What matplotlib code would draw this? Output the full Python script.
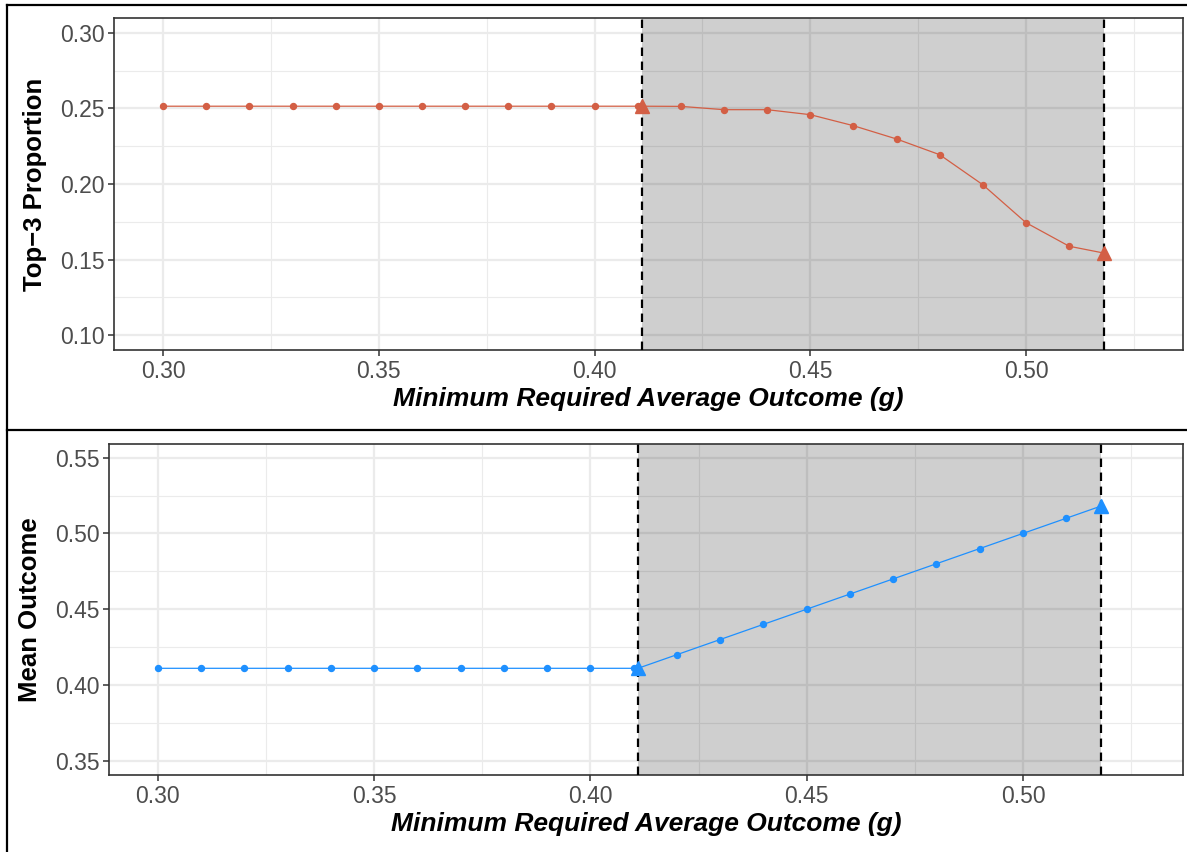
import matplotlib
matplotlib.use("Agg")
import matplotlib.pyplot as plt
from matplotlib.lines import Line2D
from matplotlib.ticker import MultipleLocator

plt.rcParams['font.family'] = ['Liberation Sans', 'DejaVu Sans']

# data
g_values = [0.30, 0.31, 0.32, 0.33, 0.34, 0.35, 0.36, 0.37, 0.38, 0.39, 0.40,
            0.41, 0.42, 0.43, 0.44, 0.45, 0.46, 0.47, 0.48, 0.49, 0.50, 0.51]
top3_prop = [0.2515, 0.2515, 0.2515, 0.2515, 0.2515, 0.2515, 0.2515, 0.2515,
             0.2515, 0.2515, 0.2515, 0.2515, 0.2514, 0.2492, 0.2492, 0.2459,
             0.2386, 0.2298, 0.2194, 0.1995, 0.1744, 0.1588]
mean_outcome = [0.411, 0.411, 0.411, 0.411, 0.411, 0.411, 0.411, 0.411, 0.411,
                0.411, 0.411, 0.411, 0.42, 0.43, 0.44, 0.45, 0.46, 0.47, 0.48,
                0.49, 0.50, 0.51]
g_lo = 0.411
g_hi = 0.518
top3_ends = [0.2515, 0.1543]
mean_ends = [0.411, 0.518]

RED = '#D35F45'
BLUE = '#1E90FF'

fig = plt.figure(figsize=(11.87, 8.52), dpi=100)


def style_axes(ax, ylims, ytick_step):
    ax.set_ylim(*ylims)
    ax.xaxis.set_major_locator(MultipleLocator(0.05))
    ax.xaxis.set_minor_locator(MultipleLocator(0.025))
    ax.yaxis.set_major_locator(MultipleLocator(ytick_step))
    ax.yaxis.set_minor_locator(MultipleLocator(ytick_step / 2))
    ax.set_axisbelow(True)
    ax.grid(which='major', color='#EBEBEB', linewidth=1.6)
    ax.grid(which='minor', color='#EBEBEB', linewidth=0.8)
    ax.tick_params(which='major', length=4, width=1.1, color='#333333',
                   labelsize=16.5, labelcolor='#4D4D4D', pad=3)
    ax.tick_params(which='minor', length=0)
    for s in ax.spines.values():
        s.set_color('#333333')
        s.set_linewidth(1.2)
    ax.xaxis.set_major_formatter(plt.FuncFormatter(lambda v, p: f"{v:.2f}"))
    ax.yaxis.set_major_formatter(plt.FuncFormatter(lambda v, p: f"{v:.2f}"))
    ax.set_xlabel('Minimum Required Average Outcome (g)', fontsize=19,
                  fontweight='bold', fontstyle='italic', labelpad=3)


def draw_panel(ax, yvals, ends, color):
    ax.axvspan(g_lo, g_hi, color='black', alpha=0.19, linewidth=0, zorder=1)
    xs = g_values[:12] + [g_lo] + g_values[12:] + [g_hi]
    ys = yvals[:12] + [ends[0]] + yvals[12:] + [ends[1]]
    ax.plot(xs, ys, color=color, linewidth=0.9, zorder=3)
    ax.plot(g_values, yvals, 'o', color=color, markersize=4.3, zorder=4)
    for xv in (g_lo, g_hi):
        ax.axvline(xv, color='black', linewidth=1.6, linestyle=(0, (3.8, 2.5)),
                   zorder=5)
    # end markers sit on top of the dashed lines
    ax.plot([g_lo, g_hi], ends, '^', color=color, markersize=10, zorder=6)


# top panel
ax1 = fig.add_axes([114 / 1187, 1 - 350 / 852, 1069 / 1187, 332 / 852])
ax1.set_xlim(0.2886, 0.5364)
style_axes(ax1, (0.0901, 0.3099), 0.05)
draw_panel(ax1, top3_prop, top3_ends, RED)
ax1.set_ylabel('Top\u22123 Proportion', fontsize=18.5, fontweight='bold', labelpad=9)

# bottom panel
ax2 = fig.add_axes([109 / 1187, 1 - 775 / 852, 1074 / 1187, 331 / 852])
ax2.set_xlim(0.2887, 0.537)
style_axes(ax2, (0.3406, 0.559), 0.05)
draw_panel(ax2, mean_outcome, mean_ends, BLUE)
ax2.set_ylabel('Mean Outcome', fontsize=18.5, fontweight='bold', labelpad=9)

# outer frame lines around the two panels
W, H = 1187, 852
fig.add_artist(Line2D([7 / W, 7 / W], [0, 1 - 5 / H], color='black', linewidth=1.6))
fig.add_artist(Line2D([7 / W, 1], [1 - 5 / H, 1 - 5 / H], color='black', linewidth=1.6))
fig.add_artist(Line2D([7 / W, 1], [1 - 430 / H, 1 - 430 / H], color='black', linewidth=1.6))

fig.savefig('out.png', dpi=100)
